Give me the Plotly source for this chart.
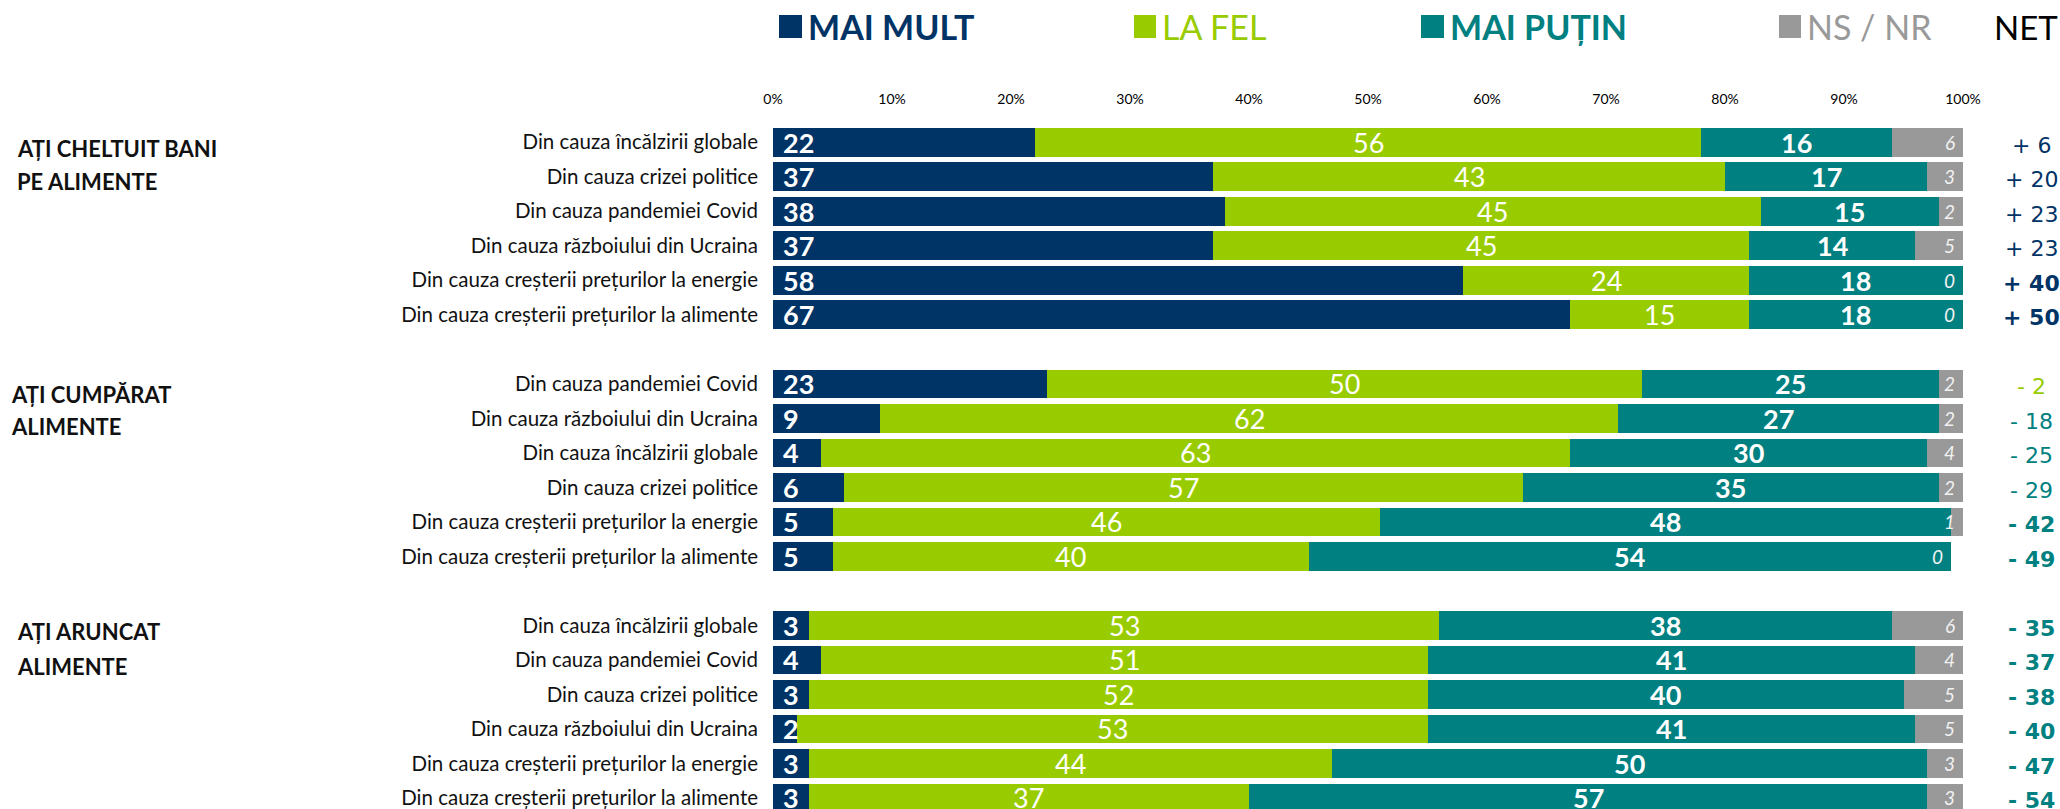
import plotly.graph_objects as go

# ---------------- data ----------------
group_titles = [["AȚI CHELTUIT BANI", "PE ALIMENTE"],
                ["AȚI CUMPĂRAT", "ALIMENTE"],
                ["AȚI ARUNCAT", "ALIMENTE"]]

g1_labels = ["Din cauza încălzirii globale", "Din cauza crizei politice",
             "Din cauza pandemiei Covid", "Din cauza războiului din Ucraina",
             "Din cauza creșterii prețurilor la energie",
             "Din cauza creșterii prețurilor la alimente"]
g1_more = [22, 37, 38, 37, 58, 67]
g1_same = [56, 43, 45, 45, 24, 15]
g1_less = [16, 17, 15, 14, 18, 18]
g1_dk = [6, 3, 2, 5, 0, 0]
g1_net = [6, 20, 23, 23, 40, 50]

g2_labels = ["Din cauza pandemiei Covid", "Din cauza războiului din Ucraina",
             "Din cauza încălzirii globale", "Din cauza crizei politice",
             "Din cauza creșterii prețurilor la energie",
             "Din cauza creșterii prețurilor la alimente"]
g2_more = [23, 9, 4, 6, 5, 5]
g2_same = [50, 62, 63, 57, 46, 40]
g2_less = [25, 27, 30, 35, 48, 54]
g2_dk = [2, 2, 4, 2, 1, 0]
g2_net = [-2, -18, -25, -29, -42, -49]

g3_labels = ["Din cauza încălzirii globale", "Din cauza pandemiei Covid",
             "Din cauza crizei politice", "Din cauza războiului din Ucraina",
             "Din cauza creșterii prețurilor la energie",
             "Din cauza creșterii prețurilor la alimente"]
g3_more = [3, 4, 3, 2, 3, 3]
g3_same = [53, 51, 52, 53, 44, 37]
g3_less = [38, 41, 40, 41, 50, 57]
g3_dk = [6, 4, 5, 5, 3, 3]
g3_net = [-35, -37, -38, -40, -47, -54]

series_names = ["MAI MULT", "LA FEL", "MAI PUȚIN", "NS / NR"]
x_ticks = [0, 10, 20, 30, 40, 50, 60, 70, 80, 90, 100]

# ---------------- style ----------------
NAVY = "#003366"
GREEN = "#99CC00"
TEAL = "#008080"
GRAY = "#999999"
COLORS = [NAVY, GREEN, TEAL, GRAY]
FONT = "Lato, 'Open Sans', sans-serif"
NETFONT = "DejaVu Sans, Verdana, sans-serif"

W, H = 2060, 809
ML, MR, MT, MB = 773, 97, 125, 0
PW, PH = W - ML - MR, H - MT - MB


def px_x(px):
    return (px - ML) / PW


def px_y(py):
    return (H - MB - py) / PH


groups = [
    (g1_labels, g1_more, g1_same, g1_less, g1_dk, g1_net),
    (g2_labels, g2_more, g2_same, g2_less, g2_dk, g2_net),
    (g3_labels, g3_more, g3_same, g3_less, g3_dk, g3_net),
]

ypos, ylab = [], []
vals = [[], [], [], []]
nets = []
for gi, (labs, more, same, less, dk, net) in enumerate(groups):
    for ri in range(len(labs)):
        ypos.append(gi * 7 + ri)
        ylab.append(labs[ri])
        vals[0].append(more[ri])
        vals[1].append(same[ri])
        vals[2].append(less[ri])
        vals[3].append(dk[ri])
        nets.append(net[ri])

fig = go.Figure()
for si in range(4):
    fig.add_trace(go.Bar(
        y=ypos, x=vals[si], orientation="h", name=series_names[si],
        marker=dict(color=COLORS[si], line=dict(width=0)),
        showlegend=False, hoverinfo="x+name",
    ))

annotations = []
for i, y in enumerate(ypos):
    m, s, l, d = vals[0][i], vals[1][i], vals[2][i], vals[3][i]
    # MAI MULT - at start
    annotations.append(dict(x=0, y=y, xref="x", yref="y", text=f"<b>{m}</b>",
                            xanchor="left", yanchor="middle", xshift=8, showarrow=False,
                            font=dict(family=FONT, size=27, color="white")))
    # LA FEL - centred
    annotations.append(dict(x=m + s / 2, y=y, xref="x", yref="y", text=f"{s}",
                            xanchor="center", yanchor="middle", showarrow=False,
                            font=dict(family=FONT, size=27, color="white")))
    # MAI PUTIN - centred, bold
    annotations.append(dict(x=m + s + l / 2, y=y, xref="x", yref="y", text=f"<b>{l}</b>",
                            xanchor="center", yanchor="middle", showarrow=False,
                            font=dict(family=FONT, size=27, color="white")))
    # NS/NR - right end, italic
    annotations.append(dict(x=min(m + s + l + d, 100), y=y, xref="x", yref="y",
                            text=f"<i>{d}</i>",
                            xanchor="right", yanchor="middle", xshift=-6, showarrow=False,
                            font=dict(family=FONT, size=19, color="#F2F2F2")))
    # NET
    n = nets[i]
    sign = "+" if n > 0 else "-"
    txt = f"{sign} {abs(n)}"
    if abs(n) >= 35:
        txt = f"<b>{txt}</b>"
    col = GREEN if abs(n) < 5 else (NAVY if n > 0 else TEAL)
    annotations.append(dict(x=px_x(2031), y=y, xref="paper", yref="y", text=txt,
                            xanchor="center", yanchor="middle", yshift=-3, showarrow=False,
                            font=dict(family=NETFONT, size=22, color=col)))

# group titles
title_x = [19, 13, 19]
title_off = [(0.17, 1.13), (0.30, 1.25), (0.19, 1.18)]
for gi, lines in enumerate(group_titles):
    for li, line in enumerate(lines):
        annotations.append(dict(x=px_x(title_x[gi] - 4), y=gi * 7 + title_off[gi][li],
                                xref="paper", yref="y", text=f"<b>{line}</b>",
                                xanchor="left", yanchor="middle", showarrow=False,
                                font=dict(family=FONT, size=22, color="#111111")))

# legend (manual)
shapes = []
leg_sq = [(779, 802), (1134, 1156), (1421, 1444), (1779, 1801)]
leg_tx = [806, 1160, 1448, 1805]
leg_bold = [True, False, True, False]
for si in range(4):
    x0, x1 = leg_sq[si]
    shapes.append(dict(type="rect", xref="paper", yref="paper",
                       x0=px_x(x0), x1=px_x(x1), y0=px_y(38), y1=px_y(15),
                       fillcolor=COLORS[si], line=dict(width=0)))
    t = series_names[si]
    annotations.append(dict(x=px_x(leg_tx[si]), y=px_y(27), xref="paper", yref="paper",
                            text=f"<b>{t}</b>" if leg_bold[si] else t,
                            xanchor="left", yanchor="middle", showarrow=False,
                            font=dict(family=FONT, size=34,
                                      color=GRAY if si == 3 else COLORS[si])))
annotations.append(dict(x=px_x(1992), y=px_y(27), xref="paper", yref="paper", text="NET",
                        xanchor="left", yanchor="middle", showarrow=False,
                        font=dict(family=FONT, size=33, color="#000000")))

fig.update_layout(
    width=W, height=H,
    margin=dict(l=ML, r=MR, t=MT, b=MB, pad=0),
    barmode="stack", bargap=0.17,
    paper_bgcolor="white", plot_bgcolor="white",
    font=dict(family=FONT, color="#000000"),
    annotations=annotations, shapes=shapes,
    xaxis=dict(range=[0, 100], side="top", tickvals=x_ticks,
               ticktext=[f"{v}%" for v in x_ticks], showgrid=False, zeroline=False,
               showline=False, ticks="", ticklabelstandoff=17,
               tickfont=dict(family=FONT, size=14, color="#000000"), fixedrange=True),
    yaxis=dict(range=[19.32, -0.5], tickvals=ypos, ticktext=ylab, showgrid=False,
               zeroline=False, showline=False, ticks="", ticklabelstandoff=14,
               ticklabeloverflow="allow",
               tickfont=dict(family=FONT, size=20.5, color="#111111"), fixedrange=True),
)

fig.write_html("out.html", config={"displayModeBar": False},
               post_script="document.body.style.margin='0px';document.body.style.overflow='hidden';")
